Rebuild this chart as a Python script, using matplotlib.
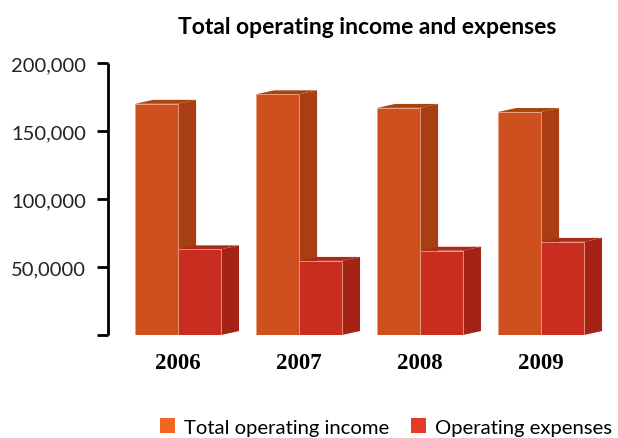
import numpy as np
import matplotlib.pyplot as plt
from matplotlib.patches import Polygon, Patch

years = ['2006', '2007', '2008', '2009']
income = [170000, 177000, 167000, 164000]
expenses = [63000, 54500, 62000, 68500]
ytick_vals = [0, 50000, 100000, 150000, 200000]
ytick_labels = ['', '50,0000', '100,000', '150,000', '200,000']

# face colours: front, side, top
inc_cols = ('#cd501e', '#a83e12', '#a9440f')
exp_cols = ('#c82d20', '#a52217', '#ab2a1a')
inc_legend = '#f26522'
exp_legend = '#e5392a'

w = 0.355      # front face width
ddx = 0.149    # depth offset in x
ddy = 2900     # depth offset in y

def box(ax, x0, h, cols):
    x1 = x0 + w
    front = [(x0, 0), (x1, 0), (x1, h), (x0, h)]
    side = [(x1, 0), (x1 + ddx, ddy), (x1 + ddx, h + ddy), (x1, h)]
    top = [(x0, h), (x1, h), (x1 + ddx, h + ddy), (x0 + ddx, h + ddy)]
    ax.add_patch(Polygon(side, closed=True, fc=cols[1], ec='none', zorder=2))
    ax.add_patch(Polygon(top, closed=True, fc=cols[2], ec='none', zorder=2))
    ax.add_patch(Polygon(front, closed=True, fc=cols[0], ec='#e8a080', lw=0.6, zorder=3))

fig = plt.figure(figsize=(6.18, 4.39), dpi=100)
ax = fig.add_axes((108/618, 103/439, 510/618, 272/439))

x = np.arange(len(years))
for i in range(len(years)):
    box(ax, x[i] - w, income[i], inc_cols)
    box(ax, x[i], expenses[i], exp_cols)

ax.set_xlim(-0.579, 3.636)
ax.set_ylim(0, 200000)
for s in ['top', 'right', 'bottom']:
    ax.spines[s].set_visible(False)
ax.spines['left'].set_linewidth(2)
ax.spines['left'].set_capstyle('butt')
ax.set_yticks(ytick_vals)
ax.set_yticklabels(ytick_labels, fontname='Lato', fontsize=14.5, color='#222222')
ax.tick_params(axis='y', direction='out', length=8, width=2, pad=8)
ax.set_xticks([])

for i, yr in enumerate(years):
    ax.text(x[i], -0.1, yr, transform=ax.get_xaxis_transform(),
            ha='center', va='center', fontname='Liberation Serif',
            fontweight='bold', fontsize=16.5)

fig.text(367/618, 1 - 27/439, 'Total operating income and expenses',
         ha='center', va='center', fontname='Lato', fontweight='bold', fontsize=16.5)

handles = [Patch(fc=inc_legend, ec='none', label='Total operating income'),
           Patch(fc=exp_legend, ec='none', label='Operating expenses')]
fig.legend(handles=handles, loc='center', bbox_to_anchor=(386/618, 11/439),
           ncol=2, frameon=False, handlelength=0.72, handleheight=0.72,
           handletextpad=0.45, columnspacing=1.1, borderpad=0,
           prop={'family': 'Lato', 'size': 14.6})

fig.savefig('out.png', dpi=100)
